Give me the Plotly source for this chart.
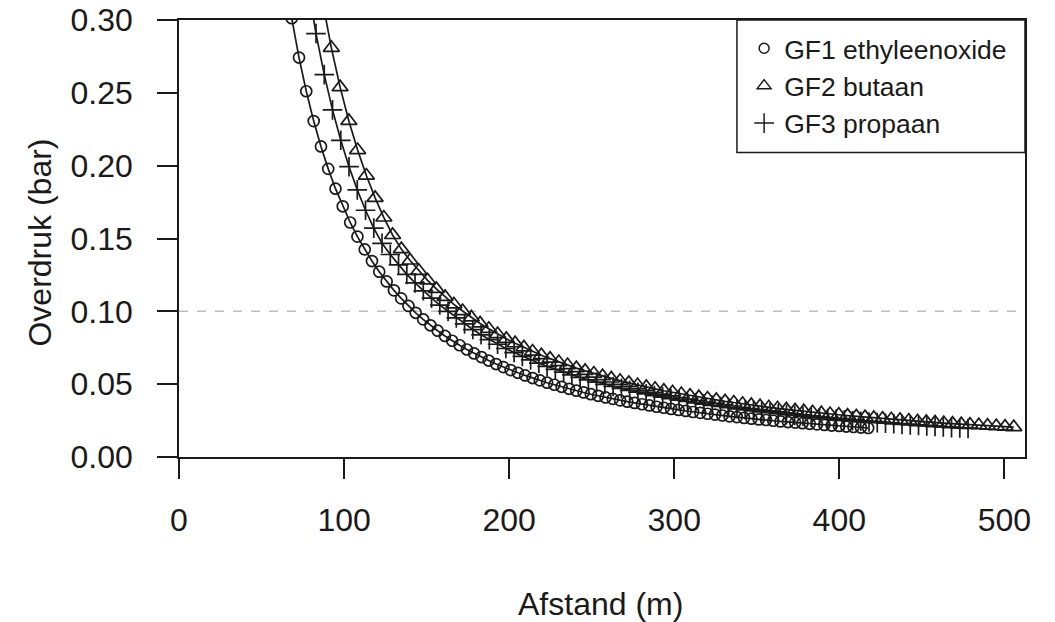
import plotly.graph_objects as go

# ---- data ----
gf1_x = [68.3, 72.7, 77.1, 81.6, 86.0, 90.4, 94.8, 99.2, 103.7, 108.1, 112.5, 116.9, 121.3, 125.8, 130.2,
         134.6, 139.0, 143.4, 147.9, 152.3, 156.7, 161.1, 165.5, 170.0, 174.4, 178.8, 183.2, 187.6, 192.1,
         196.5, 200.9, 205.3, 209.7, 214.2, 218.6, 223.0, 227.4, 231.8, 236.3, 240.7, 245.1, 249.5, 253.9,
         258.4, 262.8, 267.2, 271.6, 276.0, 280.5, 284.9, 289.3, 293.7, 298.1, 302.6, 307.0, 311.4, 315.8,
         320.2, 324.7, 329.1, 333.5, 337.9, 342.3, 346.8, 351.2, 355.6, 360.0, 364.4, 368.9, 373.3, 377.7,
         382.1, 386.5, 391.0, 395.4, 399.8, 404.2, 408.6, 413.1, 417.5]
gf1_y = [0.3012, 0.2742, 0.2511, 0.2306, 0.2132, 0.1978, 0.1842, 0.1721, 0.1610, 0.1513, 0.1425, 0.1345,
         0.1272, 0.1205, 0.1144, 0.1089, 0.1037, 0.0990, 0.0945, 0.0904, 0.0867, 0.0831, 0.0798, 0.0767,
         0.0738, 0.0711, 0.0686, 0.0662, 0.0638, 0.0617, 0.0597, 0.0578, 0.0560, 0.0542, 0.0526, 0.0510,
         0.0496, 0.0482, 0.0468, 0.0455, 0.0443, 0.0431, 0.0420, 0.0409, 0.0399, 0.0389, 0.0380, 0.0371,
         0.0362, 0.0354, 0.0345, 0.0338, 0.0330, 0.0323, 0.0316, 0.0309, 0.0303, 0.0297, 0.0291, 0.0285,
         0.0279, 0.0274, 0.0268, 0.0263, 0.0258, 0.0254, 0.0249, 0.0244, 0.0240, 0.0236, 0.0232, 0.0228,
         0.0224, 0.0220, 0.0216, 0.0213, 0.0209, 0.0206, 0.0202, 0.0199]

gf2_x = [87.0, 92.3, 97.6, 102.9, 108.2, 113.5, 118.8, 124.1, 129.4, 134.7, 140.0, 145.3, 150.6, 155.9,
         161.2, 166.5, 171.8, 177.1, 182.4, 187.7, 193.0, 198.3, 203.6, 208.9, 214.2, 219.5, 224.8, 230.1,
         235.4, 240.7, 246.0, 251.3, 256.6, 261.9, 267.2, 272.5, 277.8, 283.1, 288.4, 293.7, 299.0, 304.3,
         309.6, 314.9, 320.2, 325.5, 330.8, 336.1, 341.4, 346.7, 352.0, 357.3, 362.6, 367.9, 373.2, 378.5,
         383.8, 389.1, 394.4, 399.7, 405.0, 410.3, 415.6, 420.9, 426.2, 431.5, 436.8, 442.1, 447.4, 452.7,
         458.0, 463.3, 468.6, 473.9, 479.2, 484.5, 489.8, 495.1, 500.4, 505.7]
gf2_y = [0.3126, 0.2809, 0.2539, 0.2307, 0.2107, 0.1932, 0.1779, 0.1644, 0.1524, 0.1427, 0.1349, 0.1278,
         0.1213, 0.1154, 0.1099, 0.1048, 0.1002, 0.0958, 0.0917, 0.0880, 0.0844, 0.0811, 0.0781, 0.0752,
         0.0724, 0.0699, 0.0675, 0.0652, 0.0631, 0.0610, 0.0591, 0.0573, 0.0555, 0.0539, 0.0523, 0.0509,
         0.0494, 0.0481, 0.0468, 0.0455, 0.0444, 0.0432, 0.0421, 0.0411, 0.0401, 0.0392, 0.0382, 0.0374,
         0.0365, 0.0357, 0.0349, 0.0341, 0.0334, 0.0327, 0.0320, 0.0314, 0.0307, 0.0301, 0.0295, 0.0290,
         0.0284, 0.0279, 0.0273, 0.0268, 0.0263, 0.0259, 0.0254, 0.0250, 0.0245, 0.0241, 0.0237, 0.0233,
         0.0229, 0.0225, 0.0222, 0.0218, 0.0215, 0.0211, 0.0208, 0.0205]

gf3_x = [78, 83, 88, 93, 98, 103, 108, 113, 118, 123, 128, 133, 138, 143, 148, 153, 158, 163, 168, 173, 178,
         183, 188, 193, 198, 203, 208, 213, 218, 223, 228, 233, 238, 243, 248, 253, 258, 263, 268, 273, 278,
         283, 288, 293, 298, 303, 308, 313, 318, 323, 328, 333, 338, 343, 348, 353, 358, 363, 368, 373, 378,
         383, 388, 393, 398, 403, 408, 413, 418, 423, 428, 433, 438, 443, 448, 453, 458, 463, 468, 473, 478]
gf3_y = [0.3240, 0.2907, 0.2625, 0.2383, 0.2174, 0.1993, 0.1834, 0.1694, 0.1571, 0.1467, 0.1390, 0.1319,
         0.1254, 0.1195, 0.1141, 0.1090, 0.1043, 0.1000, 0.0955, 0.0914, 0.0875, 0.0839, 0.0806, 0.0774,
         0.0745, 0.0717, 0.0691, 0.0667, 0.0644, 0.0622, 0.0602, 0.0582, 0.0564, 0.0546, 0.0530, 0.0514,
         0.0499, 0.0484, 0.0471, 0.0458, 0.0445, 0.0434, 0.0422, 0.0411, 0.0401, 0.0391, 0.0381, 0.0372,
         0.0363, 0.0355, 0.0347, 0.0339, 0.0331, 0.0324, 0.0317, 0.0310, 0.0304, 0.0297, 0.0291, 0.0285,
         0.0280, 0.0274, 0.0269, 0.0264, 0.0259, 0.0254, 0.0249, 0.0245, 0.0240, 0.0236, 0.0232, 0.0228,
         0.0224, 0.0220, 0.0216, 0.0213, 0.0209, 0.0206, 0.0202, 0.0199, 0.0196]

series_names = ["GF1 ethyleenoxide", "GF2 butaan", "GF3 propaan"]
threshold = 0.10
x_ticks = [0, 100, 200, 300, 400, 500]
y_ticks = [0.00, 0.05, 0.10, 0.15, 0.20, 0.25, 0.30]
x_title = "Afstand (m)"
y_title = "Overdruk (bar)"

# ---- styling ----
FONT = "Liberation Sans, Arial, sans-serif"
INK = "#1a1a1a"
symbols = ["circle-open", "triangle-up-open", "cross-thin-open"]
sizes = [11, 14, 14]

fig = go.Figure()
data = [(gf1_x, gf1_y), (gf2_x, gf2_y), (gf3_x, gf3_y)]
for (xs, ys), sym, sz in zip(data, symbols, sizes):
    fig.add_trace(go.Scatter(
        x=xs, y=ys, mode="lines+markers", showlegend=False,
        line=dict(color=INK, width=1.7),
        marker=dict(symbol=sym, size=sz, color=INK, line=dict(color=INK, width=1.7)),
    ))

# legend entries (symbols only)
for i, (name, sym) in enumerate(zip(series_names, symbols)):
    fig.add_trace(go.Scatter(
        x=[None], y=[None], mode="markers", name=name, legendgroup=f"g{i}",
        marker=dict(symbol=sym, size=[10, 12, 14][i], color=INK, line=dict(color=INK, width=1.5)),
    ))

# threshold dashed line
fig.add_shape(type="line", xref="paper", yref="y", x0=0, x1=1, y0=threshold, y1=threshold,
              line=dict(color="#bdbdbd", width=1.5, dash="dash"), layer="below")

# legend frame
fig.add_shape(type="rect", xref="paper", yref="paper", x0=0.6595, x1=1.0, y0=0.6966, y1=1.0,
              line=dict(color=INK, width=1.5), fillcolor="white", layer="below")

axis_common = dict(
    showline=True, linecolor=INK, linewidth=1.5, mirror=True,
    ticks="outside", ticklen=20, tickwidth=1.5, tickcolor=INK,
    showgrid=False, zeroline=False, automargin=False, ticklabeloverflow="allow",
    tickfont=dict(family=FONT, size=32, color=INK),
)

# the page body adds an 8 px offset, so the figure is 8 px smaller on each side
fig.update_layout(
    template="none",
    width=1047, height=614,
    margin=dict(l=171, r=30, t=12, b=165, autoexpand=False),
    paper_bgcolor="white", plot_bgcolor="white",
    font=dict(family=FONT, color=INK),
    xaxis=dict(range=[0, 512.5], tickvals=x_ticks, ticktext=[str(v) for v in x_ticks],
               ticklabelstandoff=14, **axis_common),
    yaxis=dict(range=[0, 0.30], tickvals=y_ticks, ticktext=[f"{v:.2f}" for v in y_ticks],
               ticklabelstandoff=18, **axis_common),
    legend=dict(x=0.668, y=0.849, xanchor="left", yanchor="middle",
                bgcolor="rgba(0,0,0,0)", borderwidth=0,
                font=dict(family=FONT, size=26.5, color=INK),
                traceorder="grouped", tracegroupgap=0, itemsizing="trace"),
    annotations=[
        dict(text=x_title, xref="paper", yref="paper", x=0.4986, y=-0.3356,
             xanchor="center", yanchor="middle", showarrow=False,
             font=dict(family=FONT, size=32, color=INK)),
        dict(text=y_title, xref="paper", yref="paper", x=-0.1647, y=0.49,
             xanchor="center", yanchor="middle", showarrow=False, textangle=-90,
             font=dict(family=FONT, size=32, color=INK)),
    ],
)

fig.write_html("out.html")
